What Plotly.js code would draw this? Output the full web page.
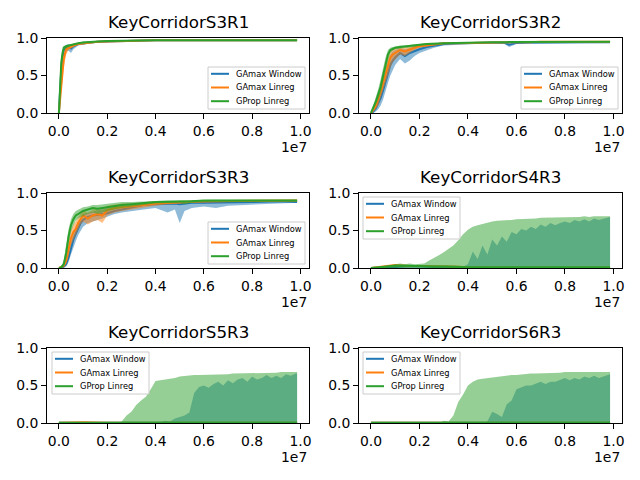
<!DOCTYPE html>
<html>
<head>
<meta charset="utf-8">
<script src="https://cdn.plot.ly/plotly-3.0.1.min.js"></script>
<style>
  html, body { margin: 0; padding: 0; background: #fff; }
  #chart { width: 640px; height: 480px; }
</style>
</head>
<body>
<div id="chart"></div>
<script>
// ── Data (x = env steps) ────────────────────────────────────────────────────
const titles = ['KeyCorridorS3R1', 'KeyCorridorS3R2', 'KeyCorridorS3R3',
                'KeyCorridorS4R3', 'KeyCorridorS5R3', 'KeyCorridorS6R3'];
const seriesNames = ['GAmax Window', 'GAmax Linreg', 'GProp Linreg'];
const xTickVals = [0, 2e6, 4e6, 6e6, 8e6, 1e7];
const xTickText = ['0.0', '0.2', '0.4', '0.6', '0.8', '1.0'];
const yTickVals = [0, 0.5, 1];
const yTickText = ['0.0', '0.5', '1.0'];

// KeyCorridorS3R1
const s3r1_x = [0, 5e4, 1e5, 1.5e5, 2e5, 3e5, 4e5, 5e5, 6e5, 8e5, 1e6, 1.3e6, 1.6e6, 2e6, 2.5e6, 3e6, 3.5e6, 4e6, 5e6, 6e6, 7e6, 8e6, 9e6, 9.86e6];
const s3r1_blue    = [0, 0.35, 0.6, 0.75, 0.84, 0.88, 0.88, 0.86, 0.89, 0.92, 0.93, 0.94, 0.95, 0.955, 0.96, 0.965, 0.965, 0.97, 0.97, 0.97, 0.97, 0.97, 0.97, 0.97];
const s3r1_blueLo  = [0, 0.2, 0.45, 0.62, 0.75, 0.82, 0.83, 0.8, 0.85, 0.9, 0.91, 0.93, 0.94, 0.94, 0.95, 0.96, 0.96, 0.965, 0.965, 0.965, 0.965, 0.965, 0.965, 0.965];
const s3r1_blueHi  = [0, 0.5, 0.72, 0.84, 0.89, 0.91, 0.92, 0.91, 0.92, 0.94, 0.95, 0.955, 0.96, 0.965, 0.97, 0.97, 0.975, 0.975, 0.975, 0.975, 0.975, 0.975, 0.975, 0.975];
const s3r1_orange   = [0, 0.2, 0.42, 0.58, 0.72, 0.85, 0.87, 0.88, 0.9, 0.92, 0.93, 0.94, 0.95, 0.955, 0.96, 0.965, 0.965, 0.97, 0.97, 0.97, 0.97, 0.97, 0.97, 0.97];
const s3r1_orangeLo = [0, 0.1, 0.3, 0.45, 0.6, 0.78, 0.84, 0.86, 0.88, 0.91, 0.92, 0.93, 0.94, 0.95, 0.955, 0.96, 0.96, 0.965, 0.965, 0.965, 0.965, 0.965, 0.965, 0.965];
const s3r1_orangeHi = [0, 0.32, 0.55, 0.7, 0.8, 0.88, 0.89, 0.9, 0.91, 0.93, 0.94, 0.95, 0.955, 0.96, 0.965, 0.97, 0.97, 0.975, 0.975, 0.975, 0.975, 0.975, 0.975, 0.975];
const s3r1_green   = [0, 0.45, 0.68, 0.8, 0.87, 0.89, 0.9, 0.91, 0.92, 0.93, 0.94, 0.95, 0.955, 0.96, 0.965, 0.965, 0.97, 0.97, 0.97, 0.97, 0.97, 0.97, 0.97, 0.97];
const s3r1_greenLo = [0, 0.35, 0.6, 0.74, 0.84, 0.87, 0.88, 0.9, 0.91, 0.92, 0.93, 0.94, 0.95, 0.955, 0.96, 0.96, 0.965, 0.965, 0.965, 0.965, 0.965, 0.965, 0.965, 0.965];
const s3r1_greenHi = [0, 0.55, 0.75, 0.85, 0.89, 0.9, 0.91, 0.92, 0.93, 0.94, 0.95, 0.955, 0.96, 0.965, 0.97, 0.97, 0.975, 0.975, 0.975, 0.975, 0.975, 0.975, 0.975, 0.975];

// KeyCorridorS3R2
const s3r2_x = [0, 1e5, 2e5, 3e5, 4e5, 5e5, 6e5, 7e5, 8e5, 9e5, 1e6, 1.2e6, 1.4e6, 1.6e6, 1.8e6, 2e6, 2.3e6, 2.6e6, 3e6, 3.5e6, 4e6, 4.5e6, 5e6, 5.5e6, 5.7e6, 6e6, 6.5e6, 7e6, 8e6, 9e6, 9.86e6];
const s3r2_blue    = [0, 0.02, 0.06, 0.12, 0.2, 0.3, 0.42, 0.55, 0.64, 0.7, 0.74, 0.8, 0.76, 0.8, 0.83, 0.85, 0.88, 0.9, 0.92, 0.93, 0.93, 0.935, 0.94, 0.94, 0.91, 0.935, 0.94, 0.94, 0.945, 0.945, 0.945];
const s3r2_blueLo  = [0, 0, 0.02, 0.05, 0.1, 0.18, 0.28, 0.4, 0.5, 0.58, 0.64, 0.72, 0.66, 0.7, 0.76, 0.8, 0.84, 0.87, 0.9, 0.91, 0.91, 0.92, 0.93, 0.92, 0.88, 0.92, 0.93, 0.93, 0.935, 0.935, 0.94];
const s3r2_blueHi  = [0, 0.06, 0.12, 0.2, 0.32, 0.45, 0.58, 0.7, 0.78, 0.82, 0.84, 0.86, 0.85, 0.87, 0.89, 0.9, 0.92, 0.93, 0.94, 0.945, 0.945, 0.95, 0.95, 0.95, 0.94, 0.95, 0.95, 0.955, 0.955, 0.955, 0.955];
const s3r2_orange   = [0, 0.04, 0.1, 0.18, 0.28, 0.4, 0.52, 0.65, 0.74, 0.78, 0.8, 0.84, 0.82, 0.85, 0.87, 0.89, 0.9, 0.92, 0.93, 0.93, 0.935, 0.94, 0.94, 0.945, 0.945, 0.945, 0.945, 0.95, 0.95, 0.95, 0.95];
const s3r2_orangeLo = [0, 0.02, 0.05, 0.1, 0.18, 0.28, 0.38, 0.5, 0.6, 0.68, 0.72, 0.78, 0.76, 0.8, 0.84, 0.87, 0.88, 0.9, 0.92, 0.92, 0.93, 0.93, 0.935, 0.94, 0.94, 0.94, 0.94, 0.945, 0.945, 0.945, 0.945];
const s3r2_orangeHi = [0, 0.08, 0.16, 0.26, 0.38, 0.52, 0.64, 0.75, 0.82, 0.85, 0.86, 0.88, 0.87, 0.89, 0.9, 0.91, 0.92, 0.93, 0.94, 0.94, 0.945, 0.95, 0.95, 0.95, 0.95, 0.95, 0.95, 0.955, 0.955, 0.955, 0.955];
const s3r2_green   = [0, 0.07, 0.15, 0.25, 0.35, 0.5, 0.65, 0.78, 0.84, 0.86, 0.87, 0.88, 0.89, 0.89, 0.9, 0.91, 0.92, 0.92, 0.93, 0.935, 0.94, 0.94, 0.945, 0.945, 0.945, 0.95, 0.95, 0.95, 0.95, 0.95, 0.95];
const s3r2_greenLo = [0, 0.04, 0.1, 0.18, 0.26, 0.4, 0.56, 0.7, 0.8, 0.83, 0.85, 0.86, 0.87, 0.87, 0.88, 0.9, 0.91, 0.91, 0.92, 0.93, 0.935, 0.935, 0.94, 0.94, 0.94, 0.945, 0.945, 0.945, 0.945, 0.945, 0.945];
const s3r2_greenHi = [0, 0.1, 0.2, 0.32, 0.45, 0.6, 0.74, 0.84, 0.87, 0.88, 0.89, 0.9, 0.9, 0.91, 0.915, 0.92, 0.93, 0.93, 0.94, 0.94, 0.945, 0.945, 0.95, 0.95, 0.95, 0.955, 0.955, 0.955, 0.955, 0.955, 0.955];

// KeyCorridorS3R3
const s3r3_x = [0, 1e5, 2e5, 3e5, 4e5, 5e5, 6e5, 7e5, 8e5, 9e5, 1e6, 1.2e6, 1.4e6, 1.6e6, 1.8e6, 2e6, 2.3e6, 2.6e6, 3e6, 3.5e6, 4e6, 4.5e6, 4.8e6, 5e6, 5.2e6, 5.5e6, 6e6, 6.5e6, 7e6, 8e6, 9e6, 9.86e6];
const s3r3_blue    = [0, 0, 0.02, 0.05, 0.14, 0.27, 0.38, 0.46, 0.54, 0.6, 0.64, 0.68, 0.7, 0.71, 0.72, 0.73, 0.76, 0.78, 0.81, 0.84, 0.85, 0.86, 0.86, 0.85, 0.86, 0.87, 0.87, 0.87, 0.88, 0.88, 0.89, 0.88];
const s3r3_blueLo  = [0, 0, 0, 0.02, 0.08, 0.18, 0.28, 0.36, 0.44, 0.5, 0.55, 0.6, 0.62, 0.64, 0.66, 0.68, 0.72, 0.74, 0.76, 0.78, 0.8, 0.74, 0.78, 0.6, 0.76, 0.8, 0.82, 0.8, 0.83, 0.85, 0.86, 0.87];
const s3r3_blueHi  = [0, 0.01, 0.04, 0.1, 0.22, 0.36, 0.48, 0.56, 0.63, 0.68, 0.72, 0.74, 0.76, 0.77, 0.78, 0.79, 0.81, 0.82, 0.85, 0.87, 0.88, 0.89, 0.89, 0.89, 0.89, 0.9, 0.9, 0.9, 0.9, 0.9, 0.9, 0.9];
const s3r3_orange   = [0, 0.01, 0.03, 0.1, 0.25, 0.4, 0.48, 0.52, 0.6, 0.66, 0.7, 0.66, 0.7, 0.72, 0.7, 0.77, 0.8, 0.81, 0.82, 0.84, 0.86, 0.87, 0.88, 0.88, 0.88, 0.885, 0.89, 0.89, 0.89, 0.89, 0.895, 0.9];
const s3r3_orangeLo = [0, 0, 0.01, 0.05, 0.15, 0.3, 0.38, 0.44, 0.52, 0.58, 0.62, 0.58, 0.62, 0.64, 0.6, 0.7, 0.74, 0.76, 0.78, 0.8, 0.83, 0.85, 0.86, 0.86, 0.86, 0.87, 0.875, 0.875, 0.88, 0.88, 0.885, 0.89];
const s3r3_orangeHi = [0, 0.02, 0.06, 0.18, 0.36, 0.5, 0.58, 0.62, 0.68, 0.73, 0.77, 0.74, 0.78, 0.79, 0.78, 0.83, 0.85, 0.86, 0.86, 0.88, 0.89, 0.89, 0.895, 0.895, 0.895, 0.9, 0.9, 0.9, 0.9, 0.9, 0.905, 0.91];
const s3r3_green   = [0, 0.01, 0.05, 0.2, 0.42, 0.57, 0.65, 0.7, 0.72, 0.74, 0.76, 0.78, 0.8, 0.79, 0.8, 0.81, 0.83, 0.84, 0.85, 0.87, 0.88, 0.885, 0.885, 0.89, 0.89, 0.89, 0.9, 0.9, 0.9, 0.9, 0.9, 0.9];
const s3r3_greenLo = [0, 0, 0.02, 0.12, 0.32, 0.48, 0.57, 0.63, 0.66, 0.68, 0.7, 0.72, 0.74, 0.72, 0.74, 0.76, 0.78, 0.8, 0.82, 0.84, 0.86, 0.87, 0.87, 0.87, 0.85, 0.87, 0.88, 0.885, 0.89, 0.89, 0.89, 0.89];
const s3r3_greenHi = [0, 0.02, 0.1, 0.3, 0.52, 0.65, 0.72, 0.76, 0.78, 0.8, 0.81, 0.82, 0.84, 0.84, 0.85, 0.86, 0.87, 0.88, 0.88, 0.89, 0.9, 0.9, 0.9, 0.905, 0.905, 0.905, 0.91, 0.91, 0.91, 0.91, 0.91, 0.91];

// Harder envs: bands from 0 up to the best run, mean lines stay near 0
const band_x = [0, 2e5, 4e5, 6e5, 8e5, 1e6, 1.2e6, 1.4e6, 1.6e6, 1.8e6, 2e6, 2.2e6, 2.4e6, 2.6e6, 2.8e6, 3e6, 3.2e6, 3.4e6, 3.6e6, 3.8e6,
                4e6, 4.2e6, 4.4e6, 4.6e6, 4.8e6, 5e6, 5.2e6, 5.4e6, 5.6e6, 5.8e6, 6e6, 6.2e6, 6.4e6, 6.6e6, 6.8e6, 7e6, 7.2e6, 7.4e6, 7.6e6, 7.8e6,
                8e6, 8.2e6, 8.4e6, 8.6e6, 8.8e6, 9e6, 9.2e6, 9.4e6, 9.6e6, 9.8e6, 9.86e6];

const s4r3_greenHi = [0, 0.01, 0.03, 0.04, 0.05, 0.06, 0.06, 0.05, 0.06, 0.05, 0.05, 0.06, 0.1, 0.13, 0.17, 0.21, 0.25, 0.3, 0.37, 0.45,
                      0.51, 0.55, 0.57, 0.59, 0.61, 0.62, 0.63, 0.63, 0.64, 0.64, 0.65, 0.65, 0.66, 0.66, 0.66, 0.67, 0.67, 0.67, 0.67, 0.68,
                      0.68, 0.68, 0.68, 0.68, 0.69, 0.68, 0.69, 0.69, 0.69, 0.69, 0.69];
const s4r3_blueHi  = [0, 0, 0, 0, 0, 0, 0, 0, 0, 0, 0, 0, 0, 0, 0, 0, 0, 0, 0, 0.02,
                      0.05, 0.22, 0.12, 0.3, 0.18, 0.38, 0.3, 0.42, 0.35, 0.48, 0.45, 0.52, 0.5, 0.55, 0.52, 0.58, 0.55, 0.6, 0.57, 0.6,
                      0.62, 0.6, 0.64, 0.62, 0.65, 0.62, 0.66, 0.64, 0.66, 0.67, 0.68];
const s4r3_lineX   = [0, 5e5, 1e6, 1.5e6, 2e6, 2.5e6, 3e6, 3.5e6, 4e6, 5e6, 6e6, 7e6, 8e6, 9e6, 9.86e6];
const s4r3_blue    = [0, 0.01, 0.02, 0.02, 0.02, 0.01, 0.01, 0.01, 0.01, 0.005, 0.005, 0.005, 0.005, 0.005, 0.005];
const s4r3_orange  = [0, 0.02, 0.04, 0.03, 0.03, 0.02, 0.03, 0.02, 0.01, 0.005, 0.005, 0.005, 0.005, 0.005, 0.005];
const s4r3_green   = [0, 0.02, 0.03, 0.03, 0.02, 0.02, 0.02, 0.01, 0.01, 0.01, 0.01, 0.01, 0.01, 0.01, 0.01];

const s5r3_greenHi = [0, 0, 0, 0, 0, 0, 0, 0, 0, 0, 0, 0, 0, 0.02, 0.1, 0.15, 0.24, 0.3, 0.35, 0.45,
                      0.56, 0.57, 0.58, 0.58, 0.6, 0.62, 0.63, 0.63, 0.64, 0.64, 0.64, 0.64, 0.65, 0.65, 0.65, 0.65, 0.66, 0.66, 0.66, 0.66,
                      0.67, 0.67, 0.67, 0.67, 0.67, 0.67, 0.68, 0.68, 0.68, 0.68, 0.68];
const s5r3_blueHi  = [0, 0, 0, 0, 0, 0, 0, 0, 0, 0, 0, 0, 0, 0, 0, 0, 0, 0, 0, 0,
                      0, 0.01, 0.03, 0.02, 0.06, 0.08, 0.1, 0.14, 0.4, 0.48, 0.5, 0.47, 0.52, 0.55, 0.5, 0.57, 0.53, 0.58, 0.6, 0.55,
                      0.62, 0.58, 0.6, 0.64, 0.6, 0.63, 0.6, 0.65, 0.63, 0.66, 0.66];

const s6r3_greenHi = [0, 0, 0, 0, 0, 0, 0, 0, 0, 0, 0, 0, 0, 0, 0, 0.03, 0.02, 0.1, 0.28, 0.38,
                      0.5, 0.55, 0.58, 0.59, 0.6, 0.6, 0.61, 0.62, 0.63, 0.64, 0.64, 0.65, 0.65, 0.66, 0.66, 0.66, 0.66, 0.67, 0.67, 0.67,
                      0.68, 0.68, 0.68, 0.67, 0.68, 0.67, 0.68, 0.67, 0.67, 0.68, 0.68];
const s6r3_blueHi  = [0, 0, 0, 0, 0, 0, 0, 0, 0, 0, 0, 0, 0, 0, 0, 0, 0, 0, 0, 0,
                      0, 0, 0, 0, 0.02, 0.15, 0.12, 0.08, 0.25, 0.3, 0.45, 0.48, 0.5, 0.5, 0.52, 0.55, 0.52, 0.55, 0.55, 0.58,
                      0.6, 0.57, 0.6, 0.58, 0.62, 0.6, 0.63, 0.6, 0.62, 0.65, 0.65];

const late_lineX  = [0, 1e6, 2e6, 3e6, 4e6, 5e6, 6e6, 7e6, 8e6, 9e6, 9.86e6];
const s5r3_blue   = [0.003, 0.003, 0.003, 0.003, 0.003, 0.003, 0.003, 0.003, 0.003, 0.003, 0.003];
const s5r3_orange = [0.003, 0.01, 0.003, 0.003, 0.003, 0.003, 0.003, 0.003, 0.003, 0.003, 0.003];
const s5r3_green  = [0.005, 0.005, 0.005, 0.005, 0.005, 0.005, 0.005, 0.005, 0.005, 0.005, 0.005];
const s6r3_blue   = [0.003, 0.003, 0.003, 0.003, 0.003, 0.003, 0.003, 0.003, 0.003, 0.003, 0.003];
const s6r3_orange = [0.003, 0.003, 0.003, 0.003, 0.003, 0.003, 0.003, 0.003, 0.003, 0.003, 0.003];
const s6r3_green  = [0.005, 0.005, 0.005, 0.005, 0.005, 0.005, 0.005, 0.01, 0.005, 0.005, 0.005];

// ── Styling ────────────────────────────────────────────────────────────────
const COL  = ['#1f77b4', '#ff7f0e', '#2ca02c'];
const FILL = ['rgba(31,119,180,0.5)', 'rgba(255,127,14,0.5)', 'rgba(44,160,44,0.5)'];
const FONT = 'DejaVu Sans, Liberation Sans, sans-serif';

const axSuffix = k => (k === 1 ? '' : String(k));

const lineTrace = (k, s, x, y) => ({
    type: 'scatter', mode: 'lines', x, y, name: seriesNames[s],
    line: { color: COL[s], width: 2 },
    xaxis: 'x' + axSuffix(k), yaxis: 'y' + axSuffix(k),
    showlegend: false, hoverinfo: 'skip'
});
// closed polygon between lo and hi
const bandTrace = (k, s, x, lo, hi) => ({
    type: 'scatter', mode: 'lines',
    x: x.concat(x.slice().reverse()), y: hi.concat(lo.slice().reverse()),
    fill: 'toself', fillcolor: FILL[s], line: { width: 0 },
    xaxis: 'x' + axSuffix(k), yaxis: 'y' + axSuffix(k),
    showlegend: false, hoverinfo: 'skip'
});
const zeroBand = (k, s, x, hi) => ({
    type: 'scatter', mode: 'lines', x, y: hi,
    fill: 'tozeroy', fillcolor: FILL[s], line: { width: 0 },
    xaxis: 'x' + axSuffix(k), yaxis: 'y' + axSuffix(k),
    showlegend: false, hoverinfo: 'skip'
});

const traces = [
    // 1 — S3R1
    bandTrace(1, 0, s3r1_x, s3r1_blueLo, s3r1_blueHi),     lineTrace(1, 0, s3r1_x, s3r1_blue),
    bandTrace(1, 1, s3r1_x, s3r1_orangeLo, s3r1_orangeHi), lineTrace(1, 1, s3r1_x, s3r1_orange),
    bandTrace(1, 2, s3r1_x, s3r1_greenLo, s3r1_greenHi),   lineTrace(1, 2, s3r1_x, s3r1_green),
    // 2 — S3R2
    bandTrace(2, 0, s3r2_x, s3r2_blueLo, s3r2_blueHi),     lineTrace(2, 0, s3r2_x, s3r2_blue),
    bandTrace(2, 1, s3r2_x, s3r2_orangeLo, s3r2_orangeHi), lineTrace(2, 1, s3r2_x, s3r2_orange),
    bandTrace(2, 2, s3r2_x, s3r2_greenLo, s3r2_greenHi),   lineTrace(2, 2, s3r2_x, s3r2_green),
    // 3 — S3R3
    bandTrace(3, 0, s3r3_x, s3r3_blueLo, s3r3_blueHi),     lineTrace(3, 0, s3r3_x, s3r3_blue),
    bandTrace(3, 1, s3r3_x, s3r3_orangeLo, s3r3_orangeHi), lineTrace(3, 1, s3r3_x, s3r3_orange),
    bandTrace(3, 2, s3r3_x, s3r3_greenLo, s3r3_greenHi),   lineTrace(3, 2, s3r3_x, s3r3_green),
    // 4 — S4R3
    zeroBand(4, 0, band_x, s4r3_blueHi),  lineTrace(4, 0, s4r3_lineX, s4r3_blue),
    lineTrace(4, 1, s4r3_lineX, s4r3_orange),
    zeroBand(4, 2, band_x, s4r3_greenHi), lineTrace(4, 2, s4r3_lineX, s4r3_green),
    // 5 — S5R3
    zeroBand(5, 0, band_x, s5r3_blueHi),  lineTrace(5, 0, late_lineX, s5r3_blue),
    lineTrace(5, 1, late_lineX, s5r3_orange),
    zeroBand(5, 2, band_x, s5r3_greenHi), lineTrace(5, 2, late_lineX, s5r3_green),
    // 6 — S6R3
    zeroBand(6, 0, band_x, s6r3_blueHi),  lineTrace(6, 0, late_lineX, s6r3_blue),
    lineTrace(6, 1, late_lineX, s6r3_orange),
    zeroBand(6, 2, band_x, s6r3_greenHi), lineTrace(6, 2, late_lineX, s6r3_green)
];

// ── Layout: 3x2 grid in pixel-derived paper coordinates ─────────────────────
const W = 640, H = 480;
const px = v => v / W, py = v => 1 - v / H;
const cols = [[px(47), px(309)], [px(359), px(622)]];
const rows = [[py(113), py(38)], [py(268), py(193)], [py(423), py(348)]];
const cell = k => ({ c: cols[(k - 1) % 2], r: rows[Math.floor((k - 1) / 2)] });

// legend boxes (top-left corner in pixels), matplotlib-like compact layout
const legendBox = [[208, 67], [521, 67], [208, 222], [363, 197], [52, 352], [363, 352]];
const LEG_W = 97, LEG_H = 42, ROW_DY = [6.8, 20.5, 34.2];

const layout = {
    width: W, height: H,
    margin: { l: 0, r: 0, t: 0, b: 0 },
    paper_bgcolor: '#ffffff', plot_bgcolor: '#ffffff',
    font: { family: FONT, color: '#000000' },
    annotations: [], shapes: [], showlegend: false
};

for (let k = 1; k <= 6; k++) {
    const { c, r } = cell(k);
    const sfx = axSuffix(k);
    const common = {
        showline: true, linecolor: '#000000', linewidth: 1, mirror: true,
        ticks: 'outside', ticklen: 5, tickwidth: 1, tickcolor: '#000000',
        showgrid: false, zeroline: false, fixedrange: true,
        tickfont: { family: FONT, size: 13.9, color: '#000000' }
    };
    layout['xaxis' + sfx] = Object.assign({}, common, {
        domain: c, anchor: 'y' + sfx, range: [-4.93e5, 1.0353e7],
        tickmode: 'array', tickvals: xTickVals, ticktext: xTickText
    });
    layout['yaxis' + sfx] = Object.assign({}, common, {
        domain: r, anchor: 'x' + sfx, range: [0, 1],
        tickmode: 'array', tickvals: yTickVals, ticktext: yTickText
    });
    // subplot title
    layout.annotations.push({
        text: titles[k - 1], xref: 'paper', yref: 'paper',
        x: (c[0] + c[1]) / 2, y: r[1], xanchor: 'center', yanchor: 'bottom', yshift: 4,
        showarrow: false, font: { family: FONT, size: 16.7, color: '#000000' }
    });
    // offset text of the x axis
    layout.annotations.push({
        text: '1e7', xref: 'paper', yref: 'paper',
        x: c[1], y: r[0], xanchor: 'right', yanchor: 'middle', yshift: -34,
        showarrow: false, font: { family: FONT, size: 13.9, color: '#000000' }
    });

    // legend: frame, handles, labels
    const [L, T] = legendBox[k - 1];
    layout.shapes.push({
        type: 'rect', xref: 'paper', yref: 'paper',
        x0: px(L), x1: px(L + LEG_W), y0: py(T + LEG_H), y1: py(T),
        fillcolor: 'rgba(255,255,255,0.8)', line: { color: '#cccccc', width: 1 }
    });
    seriesNames.forEach((name, s) => {
        const yy = py(T + ROW_DY[s]);
        layout.shapes.push({
            type: 'line', xref: 'paper', yref: 'paper',
            x0: px(L + 3), x1: px(L + 21), y0: yy, y1: yy,
            line: { color: COL[s], width: 2 }
        });
        layout.annotations.push({
            text: name, xref: 'paper', yref: 'paper',
            x: px(L + 26), y: yy, xanchor: 'left', yanchor: 'middle',
            showarrow: false, font: { family: FONT, size: 8.3, color: '#000000' }
        });
    });
}

Plotly.newPlot('chart', traces, layout, { displayModeBar: false, staticPlot: true });
</script>
</body>
</html>
